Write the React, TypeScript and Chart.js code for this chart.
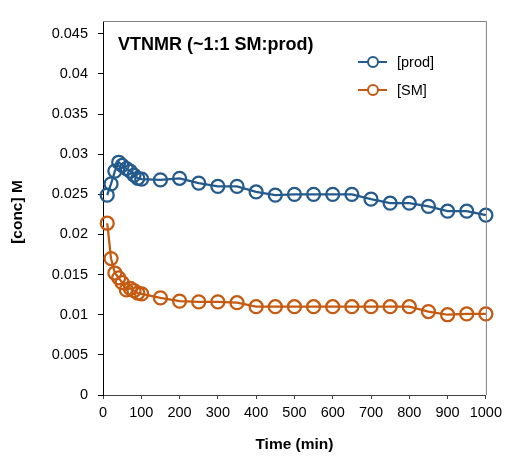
import React, { useEffect, useRef } from "react";
import { Chart, registerables } from "chart.js";

Chart.register(...registerables);

const timeMin = [11, 21, 31, 41, 50, 61, 71, 81, 91, 101, 150, 200, 250, 300, 350, 400, 450, 500, 550, 600, 650, 700, 750, 800, 850, 900, 950, 1000];
const prodConc = [0.0249, 0.0263, 0.0279, 0.029, 0.0286, 0.0282, 0.0279, 0.0274, 0.027, 0.0269, 0.0268, 0.027, 0.0264, 0.026, 0.026, 0.0253, 0.0249, 0.025, 0.025, 0.025, 0.025, 0.0244, 0.0239, 0.0239, 0.0235, 0.0229, 0.0229, 0.0224];
const smConc = [0.0214, 0.017, 0.0152, 0.0146, 0.014, 0.0131, 0.0133, 0.013, 0.0127, 0.0126, 0.0121, 0.0117, 0.0116, 0.0116, 0.0115, 0.011, 0.011, 0.011, 0.011, 0.011, 0.011, 0.011, 0.011, 0.011, 0.0104, 0.01, 0.0101, 0.0101];
const seriesNames = ["[prod]", "[SM]"];
const seriesColors = ["#245A8C", "#C55A11"];
const chartTitle = "VTNMR (~1:1 SM:prod)";
const xTitle = "Time (min)";
const yTitle = "[conc] M";
const yTickValues = [0, 0.005, 0.01, 0.015, 0.02, 0.025, 0.03, 0.035, 0.04, 0.045];

const FONT = "'Liberation Sans', Arial, sans-serif";

const overlayPlugin = {
  id: "overlay",
  afterDraw(chart: any) {
    const { ctx, chartArea } = chart;
    const { left, right, top, bottom } = chartArea;
    ctx.save();
    ctx.strokeStyle = "#7F7F7F";
    ctx.lineWidth = 1;
    ctx.beginPath();
    ctx.moveTo(left, top + 0.5);
    ctx.lineTo(right + 0.5, top + 0.5);
    ctx.lineTo(right + 0.5, bottom);
    ctx.stroke();

    ctx.fillStyle = "#000";
    ctx.font = `bold 18px ${FONT}`;
    ctx.textAlign = "left";
    ctx.textBaseline = "middle";
    ctx.fillText(chartTitle, left + 15, top + 24);

    const ly = [top + 41, top + 69];
    for (let i = 0; i < 2; i++) {
      ctx.strokeStyle = seriesColors[i];
      ctx.lineWidth = 2;
      ctx.beginPath();
      ctx.moveTo(left + 255, ly[i]);
      ctx.lineTo(left + 284, ly[i]);
      ctx.stroke();
      ctx.fillStyle = "#fff";
      ctx.beginPath();
      ctx.arc(left + 270, ly[i], 5, 0, Math.PI * 2);
      ctx.fill();
      ctx.stroke();
      ctx.fillStyle = "#000";
      ctx.font = `14.5px ${FONT}`;
      ctx.textAlign = "left";
      ctx.textBaseline = "middle";
      ctx.fillText(seriesNames[i], left + 294, ly[i] + 1);
    }

    ctx.fillStyle = "#000";
    ctx.font = `bold 15.5px ${FONT}`;
    ctx.textAlign = "center";
    ctx.textBaseline = "middle";
    ctx.fillText(xTitle, (left + right) / 2, 445);
    ctx.translate(18, 212);
    ctx.rotate(-Math.PI / 2);
    ctx.fillText(yTitle, 0, 0);
    ctx.restore();
  },
};

export default function App() {
  const ref = useRef<HTMLCanvasElement>(null);
  useEffect(() => {
    document.body.style.margin = "0";
    const mk = (vals: number[]) => timeMin.map((t, i) => ({ x: t, y: vals[i] }));
    const chart = new Chart(ref.current as HTMLCanvasElement, {
      type: "line",
      data: {
        datasets: [prodConc, smConc].map((vals, i) => ({
          label: seriesNames[i],
          data: mk(vals),
          borderColor: seriesColors[i],
          borderWidth: 2.25,
          pointRadius: 6.5,
          pointBorderWidth: 2.25,
          pointBackgroundColor: "rgba(0,0,0,0)",
          pointBorderColor: seriesColors[i],
          tension: 0,
          clip: false as any,
        })),
      },
      options: {
        animation: false,
        responsive: false,
        events: [],
        layout: { padding: { top: 21, right: 20, left: 0, bottom: 0 } },
        plugins: { legend: { display: false }, tooltip: { enabled: false }, title: { display: false } },
        scales: {
          x: {
            type: "linear",
            min: 0,
            max: 1000,
            ticks: { stepSize: 100, padding: 5, color: "#000", font: { family: FONT, size: 14.5 }, maxRotation: 0, autoSkip: false, callback: (v: any) => String(v) },
            grid: { display: true, drawOnChartArea: false, drawTicks: true, tickLength: 4, color: "#404040" },
            border: { display: true, color: "#404040", width: 1 },
            afterFit: (s: any) => { s.height = 65; },
          },
          y: {
            type: "linear",
            min: 0,
            max: 0.0466,
            afterBuildTicks: (s: any) => { s.ticks = yTickValues.map((v) => ({ value: v })); },
            ticks: {
              color: "#000",
              padding: 10,
              font: { family: FONT, size: 14.5 },
              autoSkip: false,
              callback: (v: any) => String(+Number(v).toFixed(3)),
            },
            grid: { display: true, drawOnChartArea: false, drawTicks: true, tickLength: 5, color: "#000" },
            border: { display: true, color: "#000", width: 1 },
            afterFit: (s: any) => { s.width = 103; },
          },
        },
      },
      plugins: [overlayPlugin],
    });
    return () => chart.destroy();
  }, []);
  return (
    <div style={{ width: 507, height: 460 }}>
      <canvas ref={ref} width={507} height={460} style={{ width: 507, height: 460, display: "block" }} />
    </div>
  );
}
